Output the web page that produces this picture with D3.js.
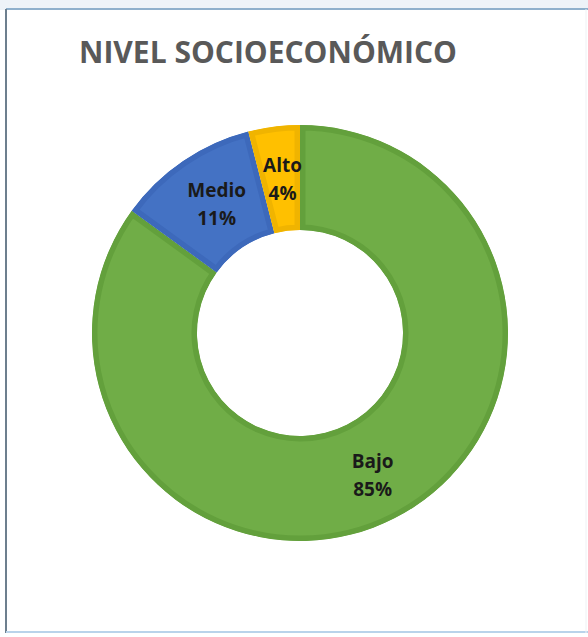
<!DOCTYPE html>
<html>
<head>
<meta charset="utf-8">
<script src="https://cdn.jsdelivr.net/npm/d3@7"></script>
<style>
  body { margin: 0; background: #fff; }
</style>
</head>
<body>
<div id="chart"></div>
<script>
// Datos
const categories = ["Bajo", "Medio", "Alto"]
const values = [85, 11, 4]
const labels = ["85%", "11%", "4%"]
const colors = ["#70ad47", "#4472c4", "#ffc000"]
const edgeColors = ["#63a03c", "#3d69bb", "#f0b400"]

const width = 588, height = 637
const cx = 300, cy = 333
const outerR = 208, innerR = 103

const svg = d3.select("#chart")
  .append("svg")
    .attr("width", width)
    .attr("height", height)

// Marco tipo ventana
svg.append("rect")
  .attr("x", 0).attr("y", 0).attr("width", width).attr("height", 10)
  .attr("fill", "#eef3f8")
svg.append("line")
  .attr("x1", 6).attr("x2", width).attr("y1", 9).attr("y2", 9)
  .attr("stroke", "#8fb0cc").attr("stroke-width", 2)
svg.append("line")
  .attr("x1", 6).attr("x2", 6).attr("y1", 9).attr("y2", height - 4)
  .attr("stroke", "#6d7f8e").attr("stroke-width", 2)
svg.append("line")
  .attr("x1", 6).attr("x2", width).attr("y1", height - 5).attr("y2", height - 5)
  .attr("stroke", "#b9d3ea").attr("stroke-width", 2)
svg.append("line")
  .attr("x1", width - 2).attr("x2", width - 2).attr("y1", 9).attr("y2", height - 4)
  .attr("stroke", "#eef1f4").attr("stroke-width", 1)

// Título
const title = svg.append("text")
  .attr("x", 268)
  .attr("y", 63)
  .attr("text-anchor", "middle")
  .attr("font-family", "'Open Sans', sans-serif")
  .attr("font-weight", "bold")
  .attr("font-size", 32)
  .attr("fill", "#595959")
  .text("NIVEL SOCIOECONÓMICO")
const tw = title.node().getComputedTextLength()
title.attr("font-size", 32 * 378 / tw)

// Donut
const pie = d3.pie().sort(null).value(d => d.value)
const arc = d3.arc().innerRadius(innerR).outerRadius(outerR)

const data = categories.map((c, i) => ({ name: c, value: values[i], label: labels[i], i }))
const arcs = pie(data)

const g = svg.append("g").attr("transform", `translate(${cx},${cy})`)

const defs = svg.append("defs")
arcs.forEach((d, i) => {
  defs.append("clipPath").attr("id", "clip" + i)
    .append("path").attr("d", arc(d))
})

g.selectAll("path.slice")
  .data(arcs)
  .join("path")
    .attr("class", "slice")
    .attr("d", arc)
    .attr("fill", d => colors[d.data.i])
    .attr("stroke", d => edgeColors[d.data.i])
    .attr("stroke-width", 11)
    .attr("clip-path", (d, i) => `url(#clip${i})`)

// Etiquetas
const offsets = [[2, -1], [4, -5], [2, -4]]
const lab = g.selectAll("text.lab")
  .data(arcs)
  .join("text")
    .attr("class", "lab")
    .attr("transform", d => {
      const [x, y] = arc.centroid(d)
      const o = offsets[d.data.i]
      return `translate(${x + o[0]},${y + o[1]})`
    })
    .attr("text-anchor", "middle")
    .attr("font-family", "'Open Sans', sans-serif")
    .attr("font-weight", "bold")
    .attr("font-size", 19)
    .attr("fill", "#1a1a1a")

lab.append("tspan").attr("x", 0).attr("dy", "-0.15em").text(d => d.data.name)
lab.append("tspan").attr("x", 0).attr("dy", "1.5em").text(d => d.data.label)
</script>
</body>
</html>
